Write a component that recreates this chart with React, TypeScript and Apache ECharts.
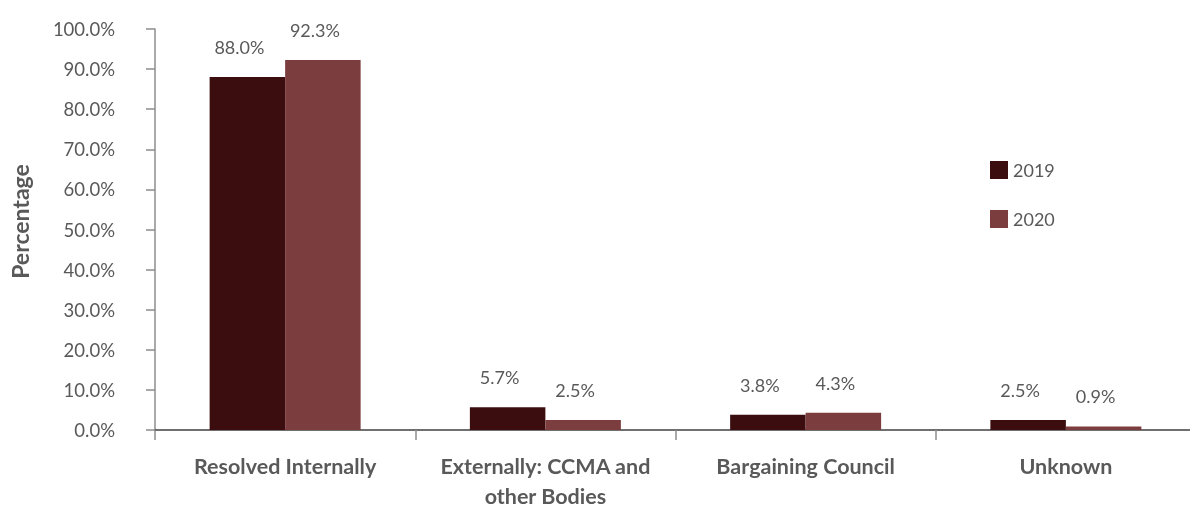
import React, { useEffect, useRef } from "react";
import * as echarts from "echarts";

const categories = [
  "Resolved Internally",
  "Externally: CCMA and\nother Bodies",
  "Bargaining Council",
  "Unknown",
];
const seriesNames = ["2019", "2020"];
const values2019 = [88.0, 5.7, 3.8, 2.5];
const values2020 = [92.3, 2.5, 4.3, 0.9];
const yTicks = { min: 0, max: 100, interval: 10 };

const FONT = "Lato, 'Open Sans', sans-serif";
const TEXT = "#595959";
const COLORS = ["#3b0d0e", "#7c3d3f"];

export default function App() {
  const ref = useRef<HTMLDivElement>(null);
  useEffect(() => {
    if (!ref.current) return;
    const chart = echarts.init(ref.current, undefined, { renderer: "svg" });
    const label = {
      show: true,
      position: "top",
      distance: 21,
      offset: [-8, 0],
      color: TEXT,
      fontFamily: FONT,
      fontSize: 18,
      formatter: (p: any) => Number(p.value).toFixed(1) + "%",
    };
    chart.setOption({
      animation: false,
      textStyle: { fontFamily: FONT },
      grid: { left: 151, top: 29, right: 4, bottom: 79, containLabel: false },
      legend: {
        orient: "vertical",
        left: 985,
        top: 156,
        itemWidth: 18,
        itemHeight: 18,
        itemGap: 31,
        icon: "rect",
        textStyle: { color: TEXT, fontFamily: FONT, fontSize: 18 },
        data: seriesNames,
      },
      xAxis: {
        type: "category",
        data: categories,
        axisLine: { lineStyle: { color: "#404040", width: 1.5 } },
        axisTick: { show: true, length: 10, lineStyle: { color: "#8c8c8c", width: 1.5 } },
        axisLabel: {
          interval: 0,
          color: TEXT,
          fontFamily: FONT,
          fontSize: 21.5,
          fontWeight: "bold",
          margin: 21,
          lineHeight: 30,
        },
      },
      yAxis: {
        type: "value",
        min: yTicks.min,
        max: yTicks.max,
        interval: yTicks.interval,
        name: "Percentage",
        nameLocation: "middle",
        nameGap: 124,
        nameTextStyle: {
          color: TEXT,
          fontFamily: FONT,
          fontSize: 23,
          fontWeight: "bold",
          padding: [0, 0, 0, 16],
        },
        splitLine: { show: false },
        axisLine: { show: true, lineStyle: { color: "#8c8c8c", width: 1.5 } },
        axisTick: { show: true, length: 9, lineStyle: { color: "#8c8c8c", width: 1.5 } },
        axisLabel: {
          color: TEXT,
          fontFamily: FONT,
          fontSize: 18.5,
          margin: 40,
          formatter: (v: number) => v.toFixed(1) + "%",
        },
      },
      series: [
        {
          name: seriesNames[0],
          type: "bar",
          data: values2019,
          barWidth: 75.5,
          barGap: "0%",
          itemStyle: { color: COLORS[0] },
          label,
        },
        {
          name: seriesNames[1],
          type: "bar",
          data: values2020,
          barWidth: 75.5,
          barGap: "0%",
          itemStyle: { color: COLORS[1] },
          label,
        },
      ],
    });
    return () => chart.dispose();
  }, []);
  return (
    <div
      ref={ref}
      style={{ position: "fixed", left: 0, top: 0, width: 1200, height: 511 }}
    />
  );
}
